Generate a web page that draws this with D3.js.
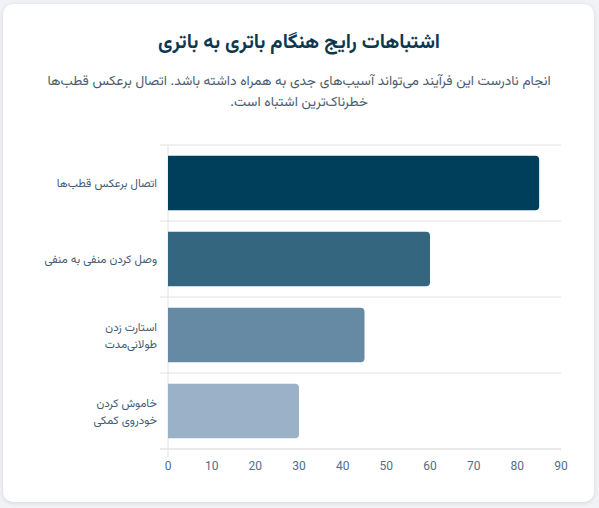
<!DOCTYPE html>
<html lang="fa" dir="rtl">
<head>
<meta charset="utf-8">
<script src="https://cdn.jsdelivr.net/npm/d3@7"></script>
<style>
  html, body { margin: 0; padding: 0; background: #f0f2f5; }
  body { width: 599px; height: 508px; overflow: hidden; font-family: Vazirmatn, "Noto Sans", Roboto, sans-serif; }
  .card { position: absolute; left: 3px; top: 4px; width: 591px; height: 498px; background: #fff; border-radius: 10px; box-shadow: 0 1px 4px rgba(0,0,0,0.12); }
  svg { position: absolute; left: 0; top: 0; }
</style>
</head>
<body>
<div class="card"></div>
<svg id="chart" width="599" height="508"></svg>
<script>
const title = "اشتباهات رایج هنگام باتری به باتری";
const subtitleLines = [
  "انجام نادرست این فرآیند می‌تواند آسیب‌های جدی به همراه داشته باشد. اتصال برعکس قطب‌ها",
  "خطرناک‌ترین اشتباه است."
];
const categories = [
  ["اتصال برعکس قطب‌ها"],
  ["وصل کردن منفی به منفی"],
  ["استارت زدن", "طولانی‌مدت"],
  ["خاموش کردن", "خودروی کمکی"]
];
const values = [85, 60, 45, 30];
const colors = ["#003f5c", "#35667f", "#668aa3", "#9bb1c8"];
const xTicks = [0, 10, 20, 30, 40, 50, 60, 70, 80, 90];

const svg = d3.select("#chart");
const m = { left: 168, right: 561, top: 145, bottom: 449 };

svg.append("text").attr("x", 299).attr("y", 48).attr("text-anchor", "middle")
  .attr("direction", "rtl")
  .attr("font-size", 20).attr("font-weight", 700).attr("fill", "#0d3850").text(title);

subtitleLines.forEach((t, i) => {
  svg.append("text").attr("x", 299).attr("y", 85 + i * 21).attr("text-anchor", "middle")
    .attr("direction", "rtl")
    .attr("font-size", 13.7).attr("fill", "#4a5d70").text(t);
});

const x = d3.scaleLinear().domain([0, 90]).range([m.left, m.right]);
const y = d3.scaleBand().domain(d3.range(categories.length)).range([m.top, m.bottom]).padding(0);

// horizontal grid lines (band boundaries)
const bounds = d3.range(categories.length + 1).map(i => m.top + i * y.step());
svg.append("g").selectAll("line").data(bounds).join("line")
  .attr("x1", m.left - 8).attr("x2", m.right)
  .attr("y1", d => d).attr("y2", d => d)
  .attr("stroke", (d, i) => i === bounds.length - 1 ? "#d4d4d4" : "#e2e2e2").attr("stroke-width", 1);

// y axis line
svg.append("line").attr("x1", m.left).attr("x2", m.left).attr("y1", m.top).attr("y2", m.bottom + 8)
  .attr("stroke", "#e2e2e2");

// bars with rounded right corners
const bh = y.bandwidth() * 0.72;
const r = 4;
svg.append("g").selectAll("path").data(values).join("path")
  .attr("fill", (d, i) => colors[i])
  .attr("d", (d, i) => {
    const x0 = x(0), x1 = x(d), y0 = y(i) + (y.bandwidth() - bh) / 2, y1 = y0 + bh;
    return `M${x0},${y0}H${x1 - r}Q${x1},${y0} ${x1},${y0 + r}V${y1 - r}Q${x1},${y1} ${x1 - r},${y1}H${x0}Z`;
  });

// category labels (rtl: "start" anchors the right edge at x)
const lab = svg.append("g");
categories.forEach((lines, i) => {
  const cy = y(i) + y.bandwidth() / 2;
  const lh = 17;
  lines.forEach((t, j) => {
    lab.append("text").attr("x", 157).attr("y", cy + (j - (lines.length - 1) / 2) * lh + 4)
      .attr("text-anchor", "start").attr("direction", "rtl")
      .attr("font-size", 11.5).attr("fill", "#3f5c75").text(t);
  });
});

// x axis ticks
svg.append("g").selectAll("text").data(xTicks).join("text")
  .attr("x", d => x(d)).attr("y", 470).attr("text-anchor", "middle")
  .attr("font-family", "Roboto, sans-serif").attr("direction", "ltr")
  .attr("font-size", 12).attr("fill", "#4f6f8a").text(d => d);
</script>
</body>
</html>
